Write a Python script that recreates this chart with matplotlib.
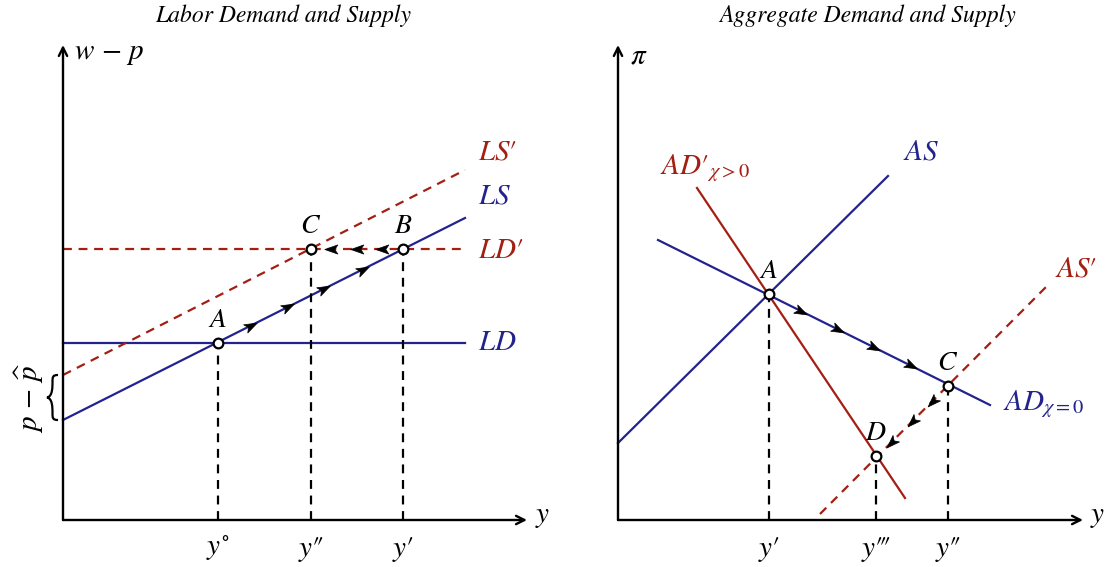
import numpy as np
import matplotlib
matplotlib.use("Agg")
import matplotlib.pyplot as plt
from matplotlib.markers import MarkerStyle
from matplotlib.path import Path
from matplotlib.patches import PathPatch
from matplotlib.transforms import Affine2D

plt.rcParams['mathtext.fontset'] = 'stix'
plt.rcParams['font.family'] = ['STIXGeneral', 'DejaVu Serif']

BLUE = '#23238e'
RED = '#a31f14'
P1, P2, P3 = "\u2032", "\u2033", "\u2034"

# ---------------- data: left panel (labor market) ----------------
titles = ["Labor Demand and Supply", "Aggregate Demand and Supply"]
ld_level = 1.77            # LD horizontal
ldp_level = 2.71           # LD' horizontal
ls_x = [0.0, 4.02]
ls_y = [1.00, 3.02]
lsp_y = [1.45, 3.50]
left_x_end = 4.02
left_points = {"A": (1.55, 1.77), "C": (2.48, 2.71), "B": (3.40, 2.71)}
left_ticks = [1.55, 2.48, 3.40]
left_ticklabels = [r"$y^{\circ}$", f"$y{P2}$", f"$y{P1}$"]
ls_arrow_x = [1.87, 2.24, 2.60, 2.99]
ldp_arrow_x = [2.69, 2.95, 3.20]

# ---------------- data: right panel (AD-AS) ----------------
as_x = [0.0, 2.70];  as_y = [0.77, 3.44]
ad_x = [0.40, 3.72]; ad_y = [2.80, 1.15]
adp_x = [0.79, 2.87]; adp_y = [3.32, 0.22]
asp_x = [2.02, 4.28]; asp_y = [0.06, 2.33]
right_points = {"A": (1.51, 2.26), "C": (3.30, 1.34), "D": (2.58, 0.64)}
right_ticks = [1.51, 2.58, 3.30]
right_ticklabels = [f"$y{P1}$", f"$y{P3}$", f"$y{P2}$"]
ad_arrow_x = [1.82, 2.19, 2.55, 2.92]
asp_arrow_x = [3.15, 2.95, 2.74]

fig = plt.figure(figsize=(11.08, 5.67), dpi=100)
W, H = 1108, 567

def make_ax(px_left, px_origin_y, xmax, ymax):
    ax = fig.add_axes([px_left / W, (H - px_origin_y) / H, xmax * 100 / W, ymax * 100 / H])
    ax.set_xlim(0, xmax)
    ax.set_ylim(0, ymax)
    ax.axis('off')
    return ax

axL = make_ax(63, 520, 4.64, 4.75)
axR = make_ax(618, 520, 4.65, 4.75)

# stealth arrow marker
stealth = Path([(1.0, 0.0), (-0.7, 0.6), (-0.3, 0.0), (-0.7, -0.6), (1.0, 0.0)],
               [Path.MOVETO, Path.LINETO, Path.LINETO, Path.LINETO, Path.CLOSEPOLY])

def mid_arrow(ax, x, y, angle_deg):
    m = MarkerStyle(stealth, transform=Affine2D().rotate_deg(angle_deg))
    ax.plot([x], [y], marker=m, markersize=11, color='black', mec='black', mew=0.5,
            linestyle='none', zorder=5, clip_on=False)

def axes_arrows(ax, xmax, ymax):
    ap = dict(arrowstyle='->,head_length=0.6,head_width=0.3', lw=1.7, color='black',
              shrinkA=0, shrinkB=0)
    ax.annotate('', xy=(xmax, 0), xytext=(0, 0), arrowprops=ap, annotation_clip=False)
    ax.annotate('', xy=(0, ymax), xytext=(0, 0), arrowprops=ap, annotation_clip=False)

def point(ax, x, y):
    ax.plot([x], [y], 'o', ms=7, mfc='white', mec='black', mew=1.6, zorder=6, clip_on=False)

FS = 21      # curve / axis labels
FSP = 20     # point labels
lw = 1.6
DASH = (0, (4, 3))

# ---------------- left panel ----------------
ax = axL
axes_arrows(ax, 4.64, 4.75)
ax.plot([0, left_x_end], [ld_level, ld_level], color=BLUE, lw=lw, clip_on=False)
ax.plot([0, left_x_end], [ldp_level, ldp_level], color=RED, lw=lw, ls=DASH, clip_on=False)
ax.plot(ls_x, ls_y, color=BLUE, lw=lw, clip_on=False)
ax.plot(ls_x, lsp_y, color=RED, lw=lw, ls=DASH, clip_on=False)
for name, (px, py) in left_points.items():
    ax.plot([px, px], [0, py], color='black', lw=lw, ls=DASH, clip_on=False)
slope = (ls_y[1] - ls_y[0]) / (ls_x[1] - ls_x[0])
ang = np.degrees(np.arctan(slope))
for xa in ls_arrow_x:
    mid_arrow(ax, xa, ls_y[0] + slope * xa, ang)
for xa in ldp_arrow_x:
    mid_arrow(ax, xa, ldp_level, 180)
for name, (px, py) in left_points.items():
    point(ax, px, py)
    ax.text(px, py + 0.10, f"${name}$", ha='center', va='bottom', fontsize=FSP)
ax.text(4.15, 3.67, f"$LS{P1}$", color=RED, fontsize=FS, va='center', ha='left')
ax.text(4.15, 3.23, r"$LS$", color=BLUE, fontsize=FS, va='center', ha='left')
ax.text(4.15, 2.69, f"$LD{P1}$", color=RED, fontsize=FS, va='center', ha='left')
ax.text(4.15, 1.77, r"$LD$", color=BLUE, fontsize=FS, va='center', ha='left')
for t, lab in zip(left_ticks, left_ticklabels):
    ax.text(t, -0.29, lab, ha='center', va='center', fontsize=FS)
ax.text(0.11, 4.66, r"$w\,-\,p$", ha='left', va='center', fontsize=FS)
ax.text(4.72, 0.03, r"$y$", ha='left', va='center', fontsize=FS)
ax.text(2.20, 5.04, titles[0], ha='center', va='center', fontsize=17, style='italic')

# brace between LS and LS' intercepts
y0, y1 = ls_y[0], lsp_y[0]
xm = -0.05; xt = -0.16; xb = xm - 0.055
ym = (y0 + y1) / 2
bv = [(xm, y0),
      (xb, y0), (xb, y0 + 0.02), (xb, y0 + 0.07),
      (xb, ym - 0.10), (xb, ym - 0.01), (xt, ym),
      (xb, ym + 0.01), (xb, ym + 0.10), (xb, y1 - 0.07),
      (xb, y1 - 0.02), (xb, y1), (xm, y1)]
codes = [Path.MOVETO] + [Path.CURVE4] * 12
ax.add_patch(PathPatch(Path(bv, codes), fill=False, lw=1.6, color='black', clip_on=False))
ax.text(-0.34, ym, r"$p\,-\,\widehat{p}$", rotation=90, ha='center', va='center', fontsize=FS)

# ---------------- right panel ----------------
ax = axR
axes_arrows(ax, 4.65, 4.75)
ax.plot(as_x, as_y, color=BLUE, lw=lw, clip_on=False)
ax.plot(ad_x, ad_y, color=BLUE, lw=lw, clip_on=False)
ax.plot(adp_x, adp_y, color=RED, lw=lw, clip_on=False)
ax.plot(asp_x, asp_y, color=RED, lw=lw, ls=DASH, clip_on=False)
for name, (px, py) in right_points.items():
    ax.plot([px, px], [0, py], color='black', lw=lw, ls=DASH, clip_on=False)
s_ad = (ad_y[1] - ad_y[0]) / (ad_x[1] - ad_x[0])
for xa in ad_arrow_x:
    mid_arrow(ax, xa, ad_y[0] + s_ad * (xa - ad_x[0]), np.degrees(np.arctan(s_ad)))
s_asp = (asp_y[1] - asp_y[0]) / (asp_x[1] - asp_x[0])
for xa in asp_arrow_x:
    mid_arrow(ax, xa, asp_y[0] + s_asp * (xa - asp_x[0]), np.degrees(np.arctan(s_asp)) + 180)
for name, (px, py) in right_points.items():
    point(ax, px, py)
    ax.text(px, py + 0.10, f"${name}$", ha='center', va='bottom', fontsize=FSP)
ax.text(2.85, 3.67, r"$AS$", color=BLUE, fontsize=FS, va='center', ha='left')
ax.text(0.42, 3.52, f"$AD{P1}_{{\\chi>0}}$", color=RED, fontsize=FS, va='center', ha='left')
ax.text(4.37, 2.50, f"$AS{P1}$", color=RED, fontsize=FS, va='center', ha='left')
ax.text(3.85, 1.16, r"$AD_{\chi=0}$", color=BLUE, fontsize=FS, va='center', ha='left')
for t, lab in zip(right_ticks, right_ticklabels):
    ax.text(t, -0.29, lab, ha='center', va='center', fontsize=FS)
ax.text(0.12, 4.63, r"$\pi$", ha='left', va='center', fontsize=FS)
ax.text(4.72, 0.03, r"$y$", ha='left', va='center', fontsize=FS)
ax.text(2.50, 5.04, titles[1], ha='center', va='center', fontsize=17, style='italic')

fig.savefig("out.png", dpi=100)
